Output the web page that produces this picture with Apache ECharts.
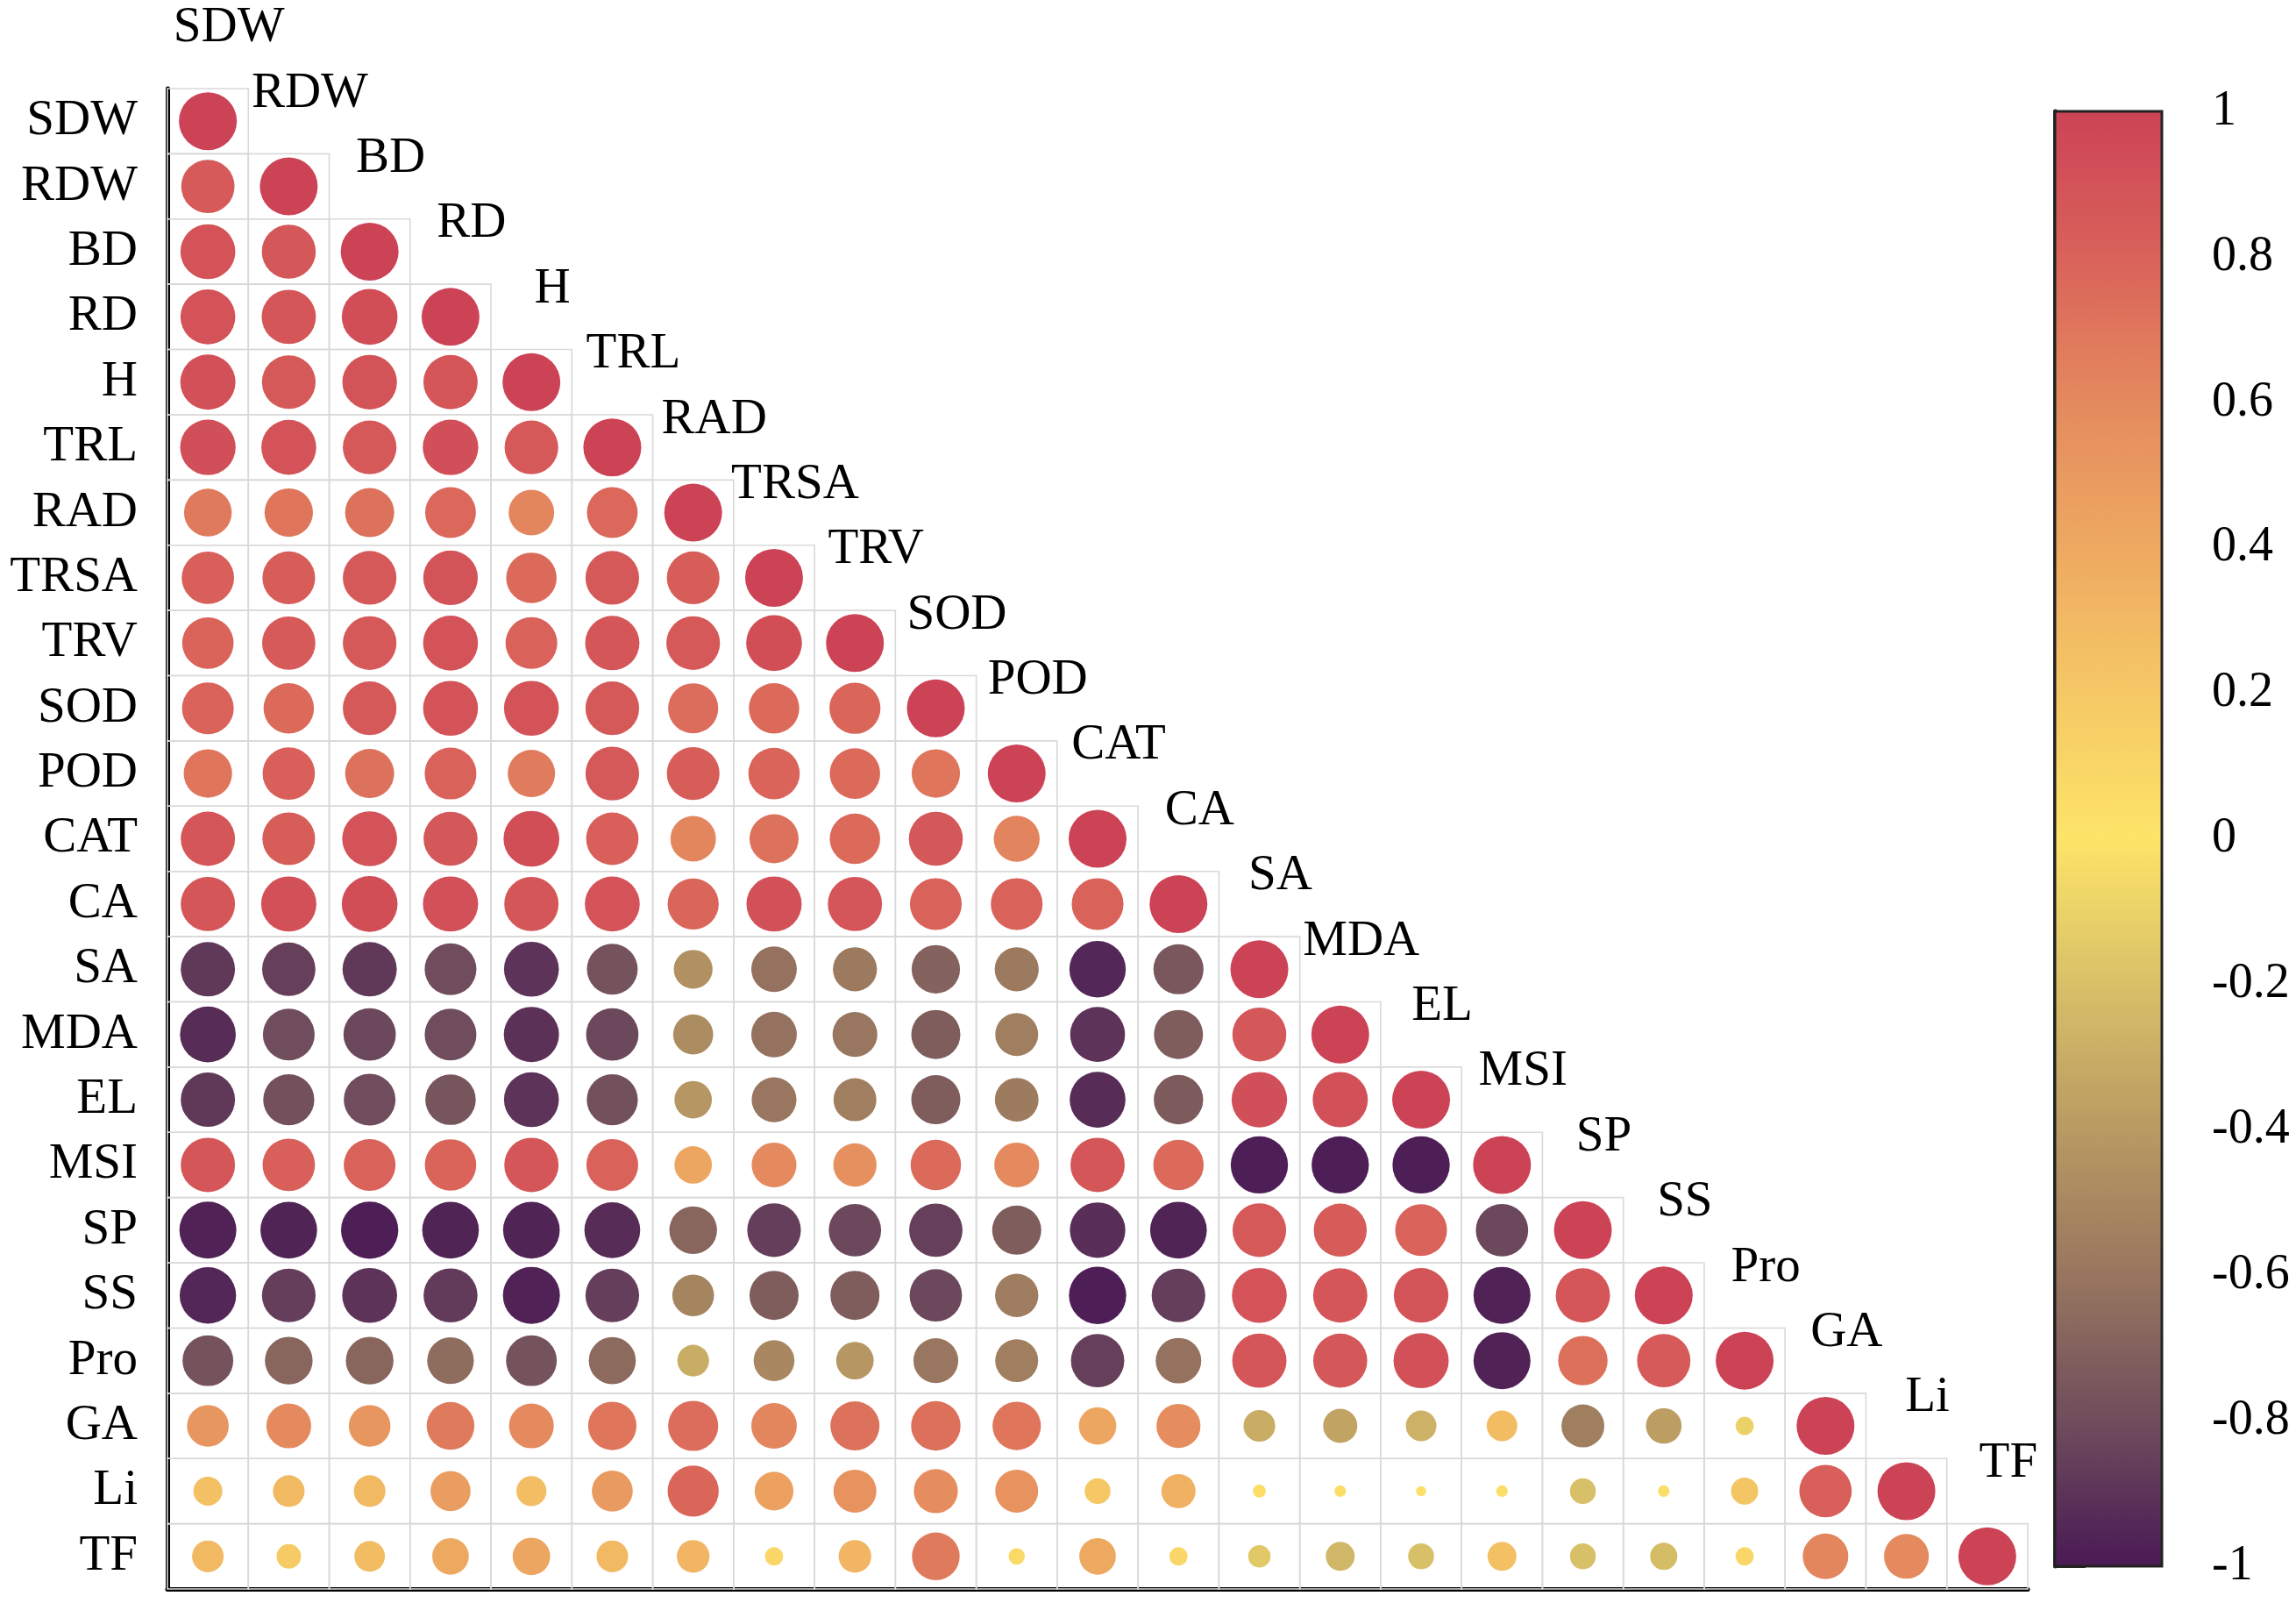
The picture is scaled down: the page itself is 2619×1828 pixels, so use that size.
<!DOCTYPE html>
<html>
<head>
<meta charset="utf-8">
<script src="https://cdn.jsdelivr.net/npm/echarts@6/dist/echarts.min.js"></script>
<style>
html,body{margin:0;padding:0;background:#fff;}
#chart{width:2619px;height:1828px;}
</style>
</head>
<body>
<div id="chart"></div>
<script>
// Variables (rows top to bottom, columns left to right)
const variables = ["SDW","RDW","BD","RD","H","TRL","RAD","TRSA","TRV","SOD","POD","CAT","CA","SA","MDA","EL","MSI","SP","SS","Pro","GA","Li","TF"];

// Lower-triangle correlation rows (row i has columns 0..i)
const rowSDW  = [1];
const rowRDW  = [0.85, 1];
const rowBD   = [0.90, 0.87, 1];
const rowRD   = [0.90, 0.88, 0.93, 1];
const rowH    = [0.91, 0.86, 0.89, 0.88, 1];
const rowTRL  = [0.92, 0.90, 0.86, 0.92, 0.86, 1];
const rowRAD  = [0.68, 0.70, 0.72, 0.77, 0.62, 0.77, 1];
const rowTRSA = [0.82, 0.83, 0.86, 0.89, 0.76, 0.86, 0.83, 1];
const rowTRV  = [0.79, 0.85, 0.86, 0.90, 0.80, 0.88, 0.86, 0.93, 1];
const rowSOD  = [0.80, 0.76, 0.86, 0.90, 0.90, 0.86, 0.75, 0.76, 0.78, 1];
const rowPOD  = [0.70, 0.82, 0.72, 0.80, 0.67, 0.86, 0.83, 0.79, 0.76, 0.70, 1];
const rowCAT  = [0.88, 0.83, 0.90, 0.87, 0.93, 0.82, 0.62, 0.72, 0.76, 0.87, 0.63, 1];
const rowCA   = [0.88, 0.91, 0.93, 0.91, 0.88, 0.90, 0.78, 0.91, 0.88, 0.80, 0.80, 0.80, 1];
const rowSA   = [-0.88, -0.85, -0.88, -0.80, -0.90, -0.77, -0.45, -0.62, -0.58, -0.70, -0.58, -0.95, -0.75, 1];
const rowMDA  = [-0.93, -0.80, -0.82, -0.80, -0.91, -0.82, -0.48, -0.62, -0.60, -0.72, -0.55, -0.90, -0.72, 0.87, 1];
const rowEL   = [-0.88, -0.78, -0.80, -0.76, -0.90, -0.78, -0.42, -0.60, -0.55, -0.72, -0.57, -0.93, -0.73, 0.92, 0.91, 1];
const rowMSI  = [0.88, 0.82, 0.80, 0.79, 0.88, 0.80, 0.42, 0.60, 0.56, 0.76, 0.60, 0.88, 0.76, -0.98, -0.98, -0.98, 1];
const rowSP   = [-0.97, -0.96, -0.98, -0.96, -0.96, -0.93, -0.68, -0.86, -0.82, -0.85, -0.72, -0.92, -0.96, 0.86, 0.84, 0.80, -0.82, 1];
const rowSS   = [-0.95, -0.86, -0.90, -0.87, -0.97, -0.86, -0.52, -0.72, -0.72, -0.82, -0.56, -0.98, -0.86, 0.90, 0.88, 0.89, -0.97, 0.88, 1];
const rowPro  = [-0.77, -0.68, -0.68, -0.65, -0.77, -0.66, -0.30, -0.50, -0.42, -0.60, -0.55, -0.85, -0.62, 0.88, 0.87, 0.91, -0.97, 0.73, 0.85, 1];
const rowGA   = [0.52, 0.60, 0.52, 0.68, 0.60, 0.70, 0.75, 0.62, 0.72, 0.73, 0.70, 0.42, 0.58, -0.30, -0.35, -0.28, 0.28, -0.55, -0.38, -0.10, 1];
const rowLi   = [0.25, 0.30, 0.30, 0.48, 0.27, 0.50, 0.78, 0.45, 0.55, 0.58, 0.55, 0.20, 0.35, 0.05, 0.04, 0.03, 0.04, -0.20, 0.04, 0.22, 0.82, 1];
const rowTF   = [0.30, 0.18, 0.28, 0.40, 0.42, 0.30, 0.32, 0.10, 0.32, 0.68, 0.08, 0.40, 0.10, -0.15, -0.25, -0.20, 0.25, -0.20, -0.22, 0.10, 0.62, 0.60, 1];

const colorbarTicks = [-1, -0.8, -0.6, -0.4, -0.2, 0, 0.2, 0.4, 0.6, 0.8, 1];
const colorStops = ["#4a1a55","#6f4d5c","#98765f","#b99a62","#d8c068","#fde468","#f5c865","#eea961","#e48a5e","#d9625a","#cc4356"];

const rows = [rowSDW,rowRDW,rowBD,rowRD,rowH,rowTRL,rowRAD,rowTRSA,rowTRV,rowSOD,rowPOD,rowCAT,rowCA,rowSA,rowMDA,rowEL,rowMSI,rowSP,rowSS,rowPro,rowGA,rowLi,rowTF];

const pointData = [];
const cellData = [];
rows.forEach((row, i) => {
  row.forEach((r, j) => {
    pointData.push({value: [j, i, r], label: {show: i === j}});
    cellData.push([j, i]);
  });
});

const FONT = "'Liberation Serif','Times New Roman',serif";
const chart = echarts.init(document.getElementById('chart'), null, {renderer: 'canvas'});

chart.setOption({
  backgroundColor: '#ffffff',
  animation: false,
  grid: [
    {left: 191, top: 101, width: 2122, height: 1711, containLabel: false},
    {left: 2344, top: 127, width: 122, height: 1659, show: true, borderColor: '#222', borderWidth: 3, backgroundColor: 'transparent', z: 5}
  ],
  xAxis: [
    {gridIndex: 0, type: 'category', data: variables, boundaryGap: true,
     axisLine: {show: true, onZero: false, lineStyle: {color: '#000', width: 5}},
     axisTick: {show: false}, axisLabel: {show: false}, splitLine: {show: false}},
    {gridIndex: 1, type: 'value', min: 0, max: 1, show: false}
  ],
  yAxis: [
    {gridIndex: 0, type: 'category', data: variables, inverse: true, boundaryGap: true,
     axisLine: {show: true, onZero: false, lineStyle: {color: '#000', width: 5}},
     axisTick: {show: false},
     axisLabel: {show: true, margin: 34, fontSize: 57, color: '#000', fontFamily: FONT},
     splitLine: {show: false}},
    {gridIndex: 1, type: 'value', min: -1, max: 1, interval: 0.2, position: 'right',
     axisLine: {show: true, lineStyle: {color: '#222', width: 5}},
     axisTick: {show: true, length: 35, inside: false, lineStyle: {color: '#222', width: 3}},
     axisLabel: {show: true, margin: 57, fontSize: 56, color: '#000', fontFamily: FONT,
       formatter: v => String(Math.round(v * 10) / 10)},
     splitLine: {show: false}}
  ],
  visualMap: {
    type: 'continuous', min: -1, max: 1, dimension: 2, seriesIndex: 1,
    inRange: {color: colorStops},
    show: true, calculable: false, hoverLink: false, orient: 'vertical',
    left: 2344, top: 127, itemWidth: 122, itemHeight: 1659, padding: 0,
    text: null, showLabel: false
  },
  series: [
    {
      name: 'cells', type: 'custom', xAxisIndex: 0, yAxisIndex: 0, z: 1,
      data: cellData, silent: true,
      renderItem: function (params, api) {
        const c = api.coord([api.value(0), api.value(1)]);
        const s = api.size([1, 1]);
        return {type: 'rect',
          shape: {x: c[0] - s[0] / 2, y: c[1] - s[1] / 2, width: s[0], height: s[1]},
          style: {fill: 'none', stroke: '#d9d9d9', lineWidth: 1.6}};
      }
    },
    {
      name: 'corr', type: 'scatter', xAxisIndex: 0, yAxisIndex: 0, z: 3,
      data: pointData,
      symbol: 'circle',
      symbolSize: function (val) { return 66 * Math.sqrt(Math.abs(val[2])); },
      itemStyle: {opacity: 1},
      label: {
        show: false, position: 'inside', offset: [24, -106],
        formatter: p => variables[p.value[0]],
        fontSize: 57, color: '#000', fontFamily: FONT
      },
      emphasis: {disabled: true}
    }
  ]
});
</script>
</body>
</html>
